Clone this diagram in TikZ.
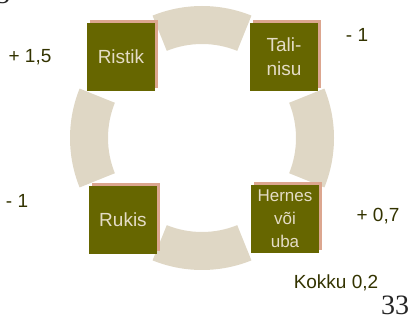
\documentclass[tikz,border=0pt]{standalone}
\usepackage{fontspec}
\setmainfont{Liberation Sans}
\newfontfamily\numfont{Liberation Serif}
\usetikzlibrary{calc}
\definecolor{ringc}{HTML}{DFD7C5}
\definecolor{boxc}{HTML}{666600}
\definecolor{shadowc}{HTML}{DCA68F}
\definecolor{boxtext}{HTML}{E4DCC6}
\definecolor{labeltext}{HTML}{333300}
\tikzset{
  cropbox/.style={fill=boxc, minimum width=68pt, minimum height=68pt, inner sep=0pt,
    text=boxtext, font=\fontsize{19}{24}\selectfont, align=center},
  cropshadow/.style={fill=shadowc, minimum width=68pt, minimum height=68pt, inner sep=0pt},
  gain/.style={text=labeltext, font=\fontsize{19}{23}\selectfont, inner sep=0pt},
}
\newcommand{\ringpart}[1]{%
  \fill[ringc] ($(c)+(#1-22:132)$) arc[start angle=#1-22, end angle=#1+22, radius=132]
    -- ($(c)+(#1+22:94)$) arc[start angle=#1+22, end angle=#1-22, radius=94] -- cycle;}
\begin{document}
\begin{tikzpicture}[x=1pt, y=-1pt]
  \useasboundingbox (0,0) rectangle (409,320);
  \coordinate (c) at (202,138);
  % rotation ring, four arcs
  \ringpart{0}
  \ringpart{90}
  \ringpart{180}
  \ringpart{270}
  % crops with their shadows
  \node[cropshadow] at (124,54) {};
  \node[cropshadow] at (287,54) {};
  \node[cropshadow] at (126,217) {};
  \node[cropshadow] at (288,216) {};
  \node[cropbox] (ristik) at (121,57) {Ristik};
  \node[cropbox] (tali) at (284,57) {Tali-\\nisu};
  \node[cropbox] (rukis) at (123,220) {Rukis};
  \node[cropbox, font=\fontsize{17}{23}\selectfont] (hernes) at (285,219) {Hernes\\või\\uba};
  % balance of each crop
  \node[gain] (g1) at (30,57) {+ 1,5};
  \node[gain] (g2) at (357,35) {- 1};
  \node[gain] (g3) at (17,201) {- 1};
  \node[gain] (g4) at (378,216) {+ 0,7};
  \node[gain] (total) at (336,283) {Kokku 0,2};
  \node[text=black!85, font=\numfont\fontsize{28}{30}\selectfont, inner sep=0pt] (page) at (395,305) {33};
  \begin{scope}
    \clip (0,0) rectangle (20,6);
    \node[text=black!85, font=\numfont\fontsize{28}{30}\selectfont, inner sep=0pt, anchor=base west] (prev) at (-4,4) {3};
  \end{scope}
\end{tikzpicture}
\end{document}
